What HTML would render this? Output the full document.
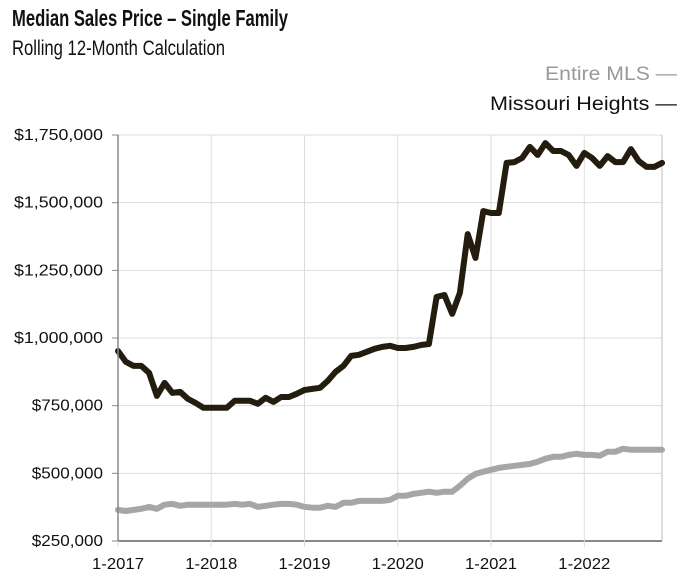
<!DOCTYPE html>
<html><head><meta charset="utf-8"><style>
body{margin:0;background:#fff;}
svg{display:block;font-family:"Liberation Sans",Arial,sans-serif;}
</style></head><body>
<svg id="chart" width="682" height="580" viewBox="0 0 682 580">
<text x="12" y="26" font-size="23" font-weight="bold" fill="#111" textLength="276" lengthAdjust="spacingAndGlyphs">Median Sales Price – Single Family</text>
<text x="12" y="55" font-size="21" fill="#111" textLength="213" lengthAdjust="spacingAndGlyphs">Rolling 12-Month Calculation</text>
<text x="677" y="80" font-size="19" fill="#999" text-anchor="end" textLength="132" lengthAdjust="spacingAndGlyphs">Entire MLS  —</text>
<text x="677" y="110" font-size="19" fill="#111" text-anchor="end" textLength="187" lengthAdjust="spacingAndGlyphs">Missouri Heights  —</text>
<g id="grid"></g><g id="series"></g><g id="axes"></g>
</svg>
<script>
const months = 71;
const yTicks = [250000, 500000, 750000, 1000000, 1250000, 1500000, 1750000];
const yTickLabels = ["$250,000","$500,000","$750,000","$1,000,000","$1,250,000","$1,500,000","$1,750,000"];
const xTickIdx = [0, 12, 24, 36, 48, 60];
const xTickLabels = ["1-2017","1-2018","1-2019","1-2020","1-2021","1-2022"];
const missouriHeights = [952,912,897,897,871,786,834,797,801,775,760,742,742,742,742,768,768,768,757,779,764,782,782,794,808,812,816,842,875,897,934,938,949,960,967,971,963,963,967,974,978,1152,1159,1089,1167,1384,1296,1469,1462,1462,1647,1650,1665,1706,1676,1720,1691,1691,1676,1636,1684,1665,1636,1672,1650,1650,1698,1654,1632,1632,1647];
const entireMLS = [365,361,365,369,376,369,384,387,380,384,384,384,384,384,384,387,384,387,376,380,384,387,387,384,376,373,373,380,376,391,391,398,398,398,398,402,417,417,424,428,432,428,432,432,454,480,498,506,513,520,524,528,531,535,543,554,561,561,568,572,568,568,565,580,580,591,587,587,587,587,587];

const L=118,R=662,T=135,B=541, ymin=250000, ymax=1750000;
const xs=i=>L+(R-L)*i/(months-1);
const ys=v=>B-(B-T)*(v-ymin)/(ymax-ymin);
const NS="http://www.w3.org/2000/svg";
function mk(tag,parent,attrs){const e=document.createElementNS(NS,tag);for(const k in attrs)e.setAttribute(k,attrs[k]);document.getElementById(parent).appendChild(e);return e;}

yTicks.forEach((v,i)=>{
  const g=mk('line','grid',{x1:L,x2:R,y1:ys(v),y2:ys(v),stroke:i==0?'#888':'#ddd','stroke-width':i==0?2:1});
  
  
  const t=mk('text','axes',{x:103,y:ys(v)+5,'font-size':16,fill:'#111','text-anchor':'end',textLength:yTickLabels[i].length*8.9,lengthAdjust:'spacingAndGlyphs'});
  t.textContent=yTickLabels[i];
  
  
  const tk=mk('line','axes',{x1:L-6,x2:L,y1:ys(v),y2:ys(v),stroke:'#888','stroke-width':1});
  
  
});
xTickIdx.forEach((m,i)=>{
  const g=mk('line','grid',{x1:xs(m),x2:xs(m),y1:T,y2:B+6,stroke:'#ddd','stroke-width':1});
  
  
  const t=mk('text','axes',{x:xs(m),y:569,'font-size':16,fill:'#111','text-anchor':'middle',textLength:52,lengthAdjust:'spacingAndGlyphs'});
  t.textContent=xTickLabels[i];
  
  
});
const rb=mk('line','grid',{x1:R,x2:R,y1:T,y2:B,stroke:'#bbb','stroke-width':1});


const la=mk('line','axes',{x1:L,x2:L,y1:T,y2:B,stroke:'#888','stroke-width':1.5});



function line(data,color,name){
  const d=data.map((v,i)=>(i?'L':'M')+xs(i).toFixed(1)+','+ys(v*1000).toFixed(1)).join(' ');
  const p=mk('path','series',{d:d,fill:'none',stroke:color,'stroke-width':6,'stroke-linejoin':'round','stroke-linecap':'round'});
  
  
}
line(entireMLS,'#a6a6a6','entire-mls-line');
line(missouriHeights,'#231c0f','missouri-heights-line');
</script>
</body></html>
